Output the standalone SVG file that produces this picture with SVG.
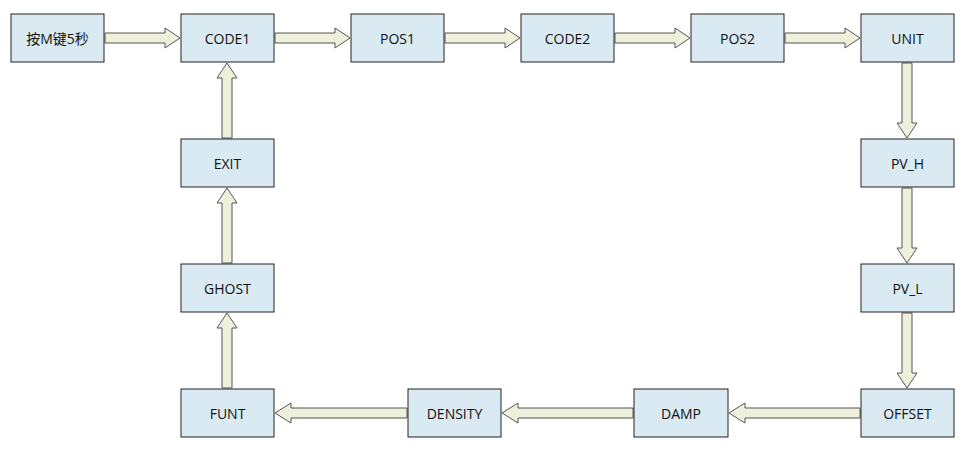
<svg xmlns="http://www.w3.org/2000/svg" width="970" height="450" viewBox="0 0 970 450">
<style>
.n rect{fill:#daeaf2;stroke:#222;stroke-width:1}
.n text{font-family:"Open Sans","Noto Sans CJK SC",sans-serif;font-size:14px;fill:#111;text-anchor:middle;dominant-baseline:central}
#c polygon{fill:#eef0dc;stroke:#555;stroke-width:1}
</style>
<rect width="970" height="450" fill="#fff"/>
<g id="c">
<polygon points="105,33 165,33 165,28 180,38 165,48 165,43 105,43"/>
<polygon points="275,33 335,33 335,28 350,38 335,48 335,43 275,43"/>
<polygon points="445,33 505,33 505,28 520,38 505,48 505,43 445,43"/>
<polygon points="615,33 675,33 675,28 690,38 675,48 675,43 615,43"/>
<polygon points="785,33 845,33 845,28 860,38 845,48 845,43 785,43"/>
<polygon points="902,63 912,63 912,123 917,123 907,138 897,123 902,123"/>
<polygon points="902,188 912,188 912,248 917,248 907,263 897,248 902,248"/>
<polygon points="902,313 912,313 912,373 917,373 907,388 897,373 902,373"/>
<polygon points="860,408 745,408 745,403 729,413 745,423 745,418 860,418"/>
<polygon points="633,408 518,408 518,403 502,413 518,423 518,418 633,418"/>
<polygon points="407,408 291,408 291,403 275,413 291,423 291,418 407,418"/>
<polygon points="222,388 222,328 217,328 227,313 237,328 232,328 232,388"/>
<polygon points="222,263 222,203 217,203 227,188 237,203 232,203 232,263"/>
<polygon points="222,138 222,78 217,78 227,63 237,78 232,78 232,138"/>
</g>
<g id="start" class="n"><rect x="11" y="14" width="93" height="48"/><text x="57.5" y="38">按M键5秒</text></g>
<g id="code1" class="n"><rect x="181" y="14" width="93" height="48"/><text x="227.5" y="38">CODE1</text></g>
<g id="pos1" class="n"><rect x="351" y="14" width="93" height="48"/><text x="397.5" y="38">POS1</text></g>
<g id="code2" class="n"><rect x="521" y="14" width="93" height="48"/><text x="567.5" y="38">CODE2</text></g>
<g id="pos2" class="n"><rect x="691" y="14" width="93" height="48"/><text x="737.5" y="38">POS2</text></g>
<g id="unit" class="n"><rect x="861" y="14" width="93" height="48"/><text x="907.5" y="38">UNIT</text></g>
<g id="pvh" class="n"><rect x="861" y="139" width="93" height="48"/><text x="907.5" y="163">PV_H</text></g>
<g id="pvl" class="n"><rect x="861" y="264" width="93" height="48"/><text x="907.5" y="288">PV_L</text></g>
<g id="offset" class="n"><rect x="861" y="389" width="93" height="48"/><text x="907.5" y="413">OFFSET</text></g>
<g id="damp" class="n"><rect x="634" y="389" width="94" height="48"/><text x="681" y="413">DAMP</text></g>
<g id="density" class="n"><rect x="408" y="389" width="93" height="48"/><text x="454.5" y="413">DENSITY</text></g>
<g id="funt" class="n"><rect x="181" y="389" width="93" height="48"/><text x="227.5" y="413">FUNT</text></g>
<g id="ghost" class="n"><rect x="181" y="264" width="93" height="48"/><text x="227.5" y="288">GHOST</text></g>
<g id="exit" class="n"><rect x="181" y="139" width="93" height="48"/><text x="227.5" y="163">EXIT</text></g>
</svg>
